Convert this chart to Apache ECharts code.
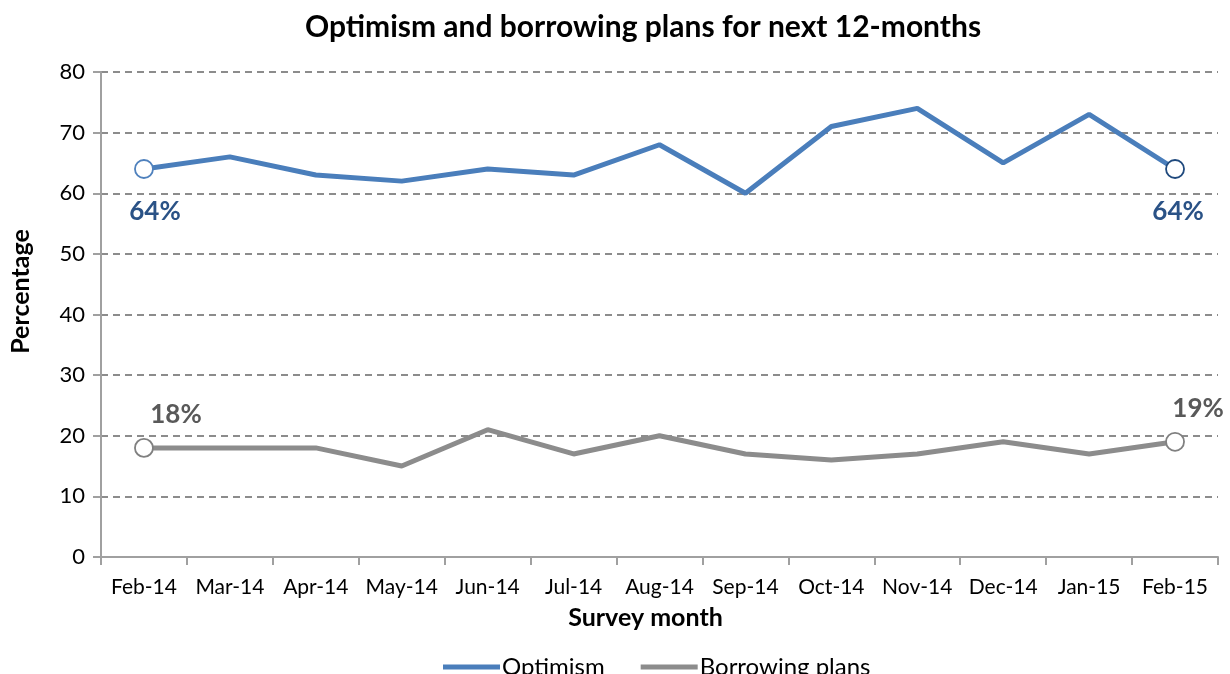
<!DOCTYPE html>
<html>
<head>
<meta charset="utf-8">
<script src="https://cdn.jsdelivr.net/npm/echarts@6/dist/echarts.min.js"></script>
<style>
  html, body { margin: 0; padding: 0; background: #fff; }
  #chart { width: 1230px; height: 674px; }
</style>
</head>
<body>
<div id="chart"></div>
<script>
// Survey months and results (percent of respondents)
const months = ['Feb-14', 'Mar-14', 'Apr-14', 'May-14', 'Jun-14', 'Jul-14', 'Aug-14',
                'Sep-14', 'Oct-14', 'Nov-14', 'Dec-14', 'Jan-15', 'Feb-15'];
const optimism = [64, 66, 63, 62, 64, 63, 68, 60, 71, 74, 65, 73, 64];
const borrowing = [18, 18, 18, 15, 21, 17, 20, 17, 16, 17, 19, 17, 19];
const yTicks = [0, 10, 20, 30, 40, 50, 60, 70, 80];

const FONT = 'Lato, "Open Sans", sans-serif';

// Only the first and last month carry a hollow marker and a value label
function endpoints(values, opts) {
  const last = values.length - 1;
  return values.map((v, i) => {
    if (i !== 0 && i !== last) return { value: v, symbol: 'none' };
    const o = i === 0 ? opts.first : opts.last;
    return {
      value: v,
      symbol: 'circle',
      symbolSize: 18,
      itemStyle: { color: '#fff', borderColor: o.border, borderWidth: 1.8 },
      label: Object.assign({
        show: true,
        formatter: '{c}%',
        fontFamily: FONT,
        fontWeight: 'bold',
        fontSize: 26,
        color: opts.labelColor
      }, o.label)
    };
  });
}

const chart = echarts.init(document.getElementById('chart'), null, { renderer: 'canvas' });

chart.setOption({
  animation: false,
  backgroundColor: '#fff',
  title: {
    text: 'Optimism and borrowing plans for next 12-months',
    left: 638,
    textAlign: 'center',
    top: 7,
    textStyle: { fontFamily: FONT, fontWeight: 'bold', fontSize: 30, color: '#000' }
  },
  legend: {
    bottom: -10,
    left: 438,
    itemWidth: 57,
    itemHeight: 5,
    itemGap: 36,
    icon: 'rect',
    textStyle: { fontFamily: FONT, fontSize: 24, color: '#000', padding: [0, 0, 0, -3] },
    data: ['Optimism', 'Borrowing plans']
  },
  grid: { left: 100, right: 12, top: 72, bottom: 117, containLabel: false },
  xAxis: {
    type: 'category',
    data: months,
    boundaryGap: true,
    name: 'Survey month',
    nameLocation: 'middle',
    nameGap: 48,
    nameTextStyle: { fontFamily: FONT, fontWeight: 'bold', fontSize: 25, color: '#000',
                     padding: [0, 28, 0, 0] },
    axisLine: { lineStyle: { color: '#a0a0a0', width: 2 } },
    axisTick: { show: true, alignWithLabel: false, length: 8, inside: false,
                lineStyle: { color: '#a0a0a0', width: 2 } },
    axisLabel: { fontFamily: FONT, fontSize: 21, color: '#000', margin: 20, interval: 0 },
    splitLine: { show: false }
  },
  yAxis: {
    type: 'value',
    min: 0,
    max: 80,
    interval: 10,
    name: 'Percentage',
    nameLocation: 'middle',
    nameGap: 68,
    nameRotate: 90,
    nameTextStyle: { fontFamily: FONT, fontWeight: 'bold', fontSize: 25, color: '#000',
                     padding: [0, 0, 0, 46] },
    axisLine: { show: true, lineStyle: { color: '#a0a0a0', width: 2 } },
    axisTick: { show: true, length: 8, lineStyle: { color: '#a0a0a0', width: 2 } },
    axisLabel: {
      fontFamily: FONT, fontSize: 22, color: '#000', margin: 16,
      formatter: v => (yTicks.includes(v) ? String(v) : '')
    },
    splitLine: { show: true, lineStyle: { color: '#8c8c8c', width: 2, type: [7, 5] } }
  },
  series: [
    {
      name: 'Optimism',
      type: 'line',
      data: endpoints(optimism, {
        labelColor: '#2a5286',
        first: { border: '#4f81bd', label: { position: 'bottom', distance: 20, offset: [11, 0] } },
        last: { border: '#1f497d', label: { position: 'bottom', distance: 20, offset: [3, 0] } }
      }),
      symbol: 'circle',
      showSymbol: true,
      lineStyle: { color: '#4a7ebb', width: 5 },
      itemStyle: { color: '#4a7ebb' },
      emphasis: { disabled: true },
      z: 3
    },
    {
      name: 'Borrowing plans',
      type: 'line',
      data: endpoints(borrowing, {
        labelColor: '#595959',
        first: { border: '#808080', label: { position: 'top', distance: 10, offset: [32, 0] } },
        last: { border: '#808080', label: { position: 'top', distance: 10, offset: [23, 0] } }
      }),
      symbol: 'circle',
      showSymbol: true,
      lineStyle: { color: '#8c8c8c', width: 5 },
      itemStyle: { color: '#8c8c8c' },
      emphasis: { disabled: true },
      z: 3
    }
  ]
});
</script>
</body>
</html>
